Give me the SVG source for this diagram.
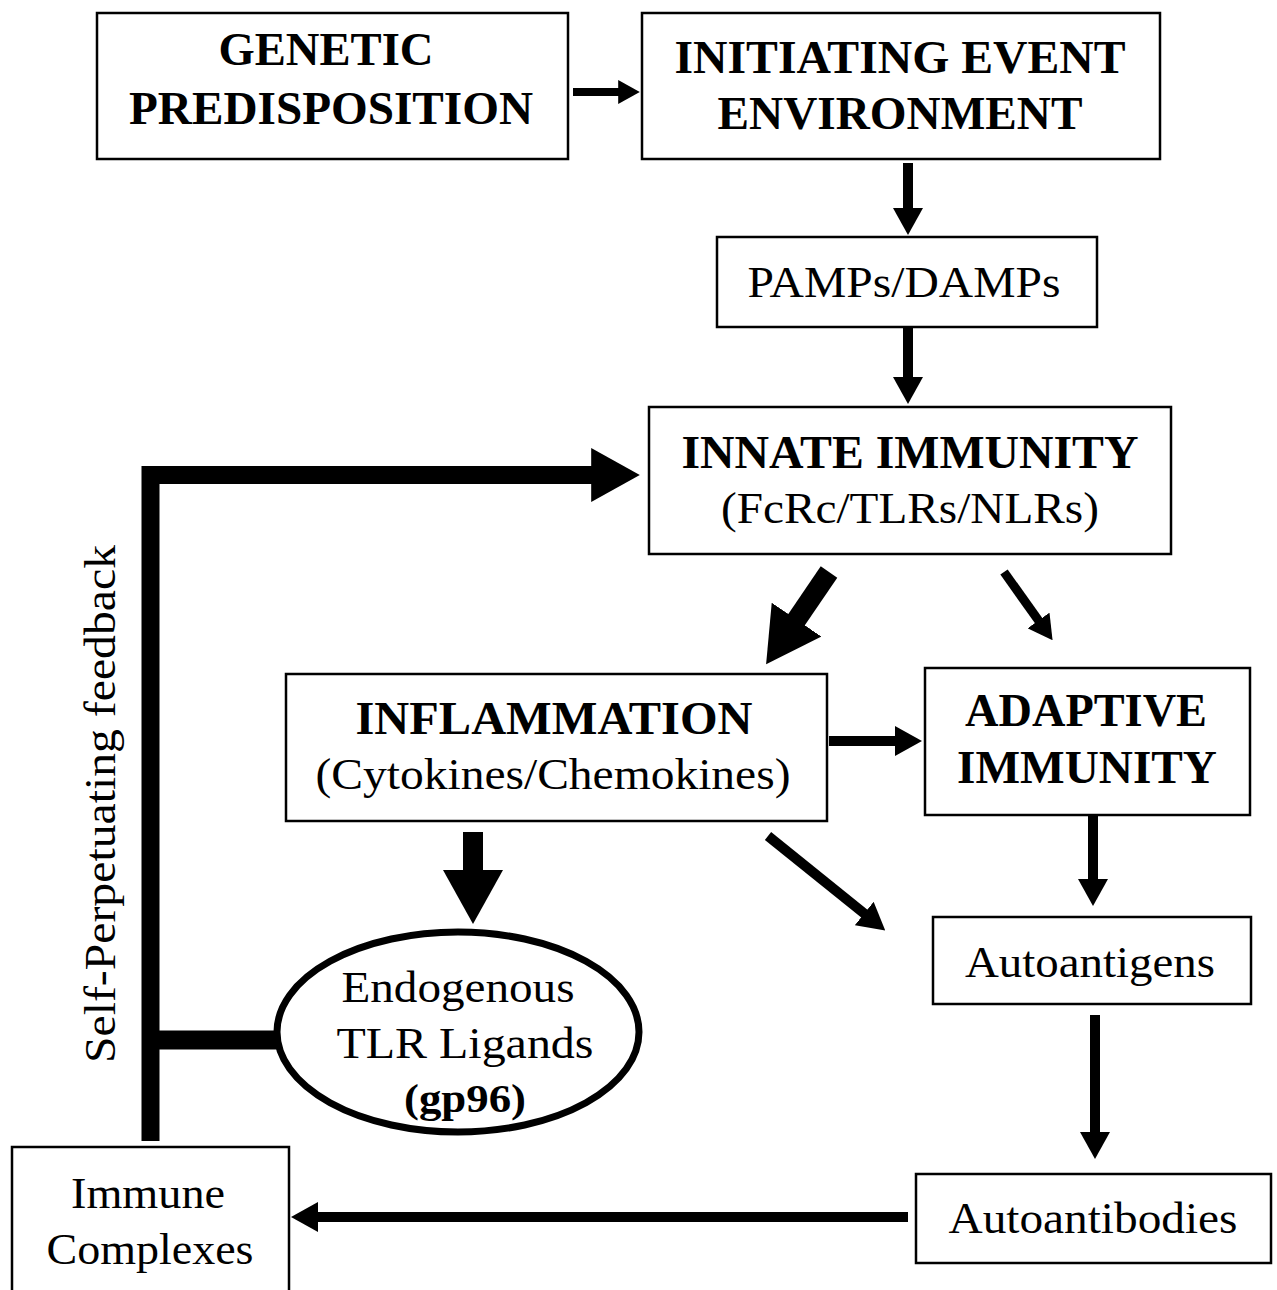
<svg xmlns="http://www.w3.org/2000/svg" width="1277" height="1290" viewBox="0 0 1277 1290">
<style>
.box{fill:#fff;stroke:#000;stroke-width:2.5}
.ell{fill:#fff;stroke:#000;stroke-width:7}
.t{font-family:"Liberation Serif","Times New Roman",serif;font-size:44px;fill:#000;text-anchor:middle}
.b{font-weight:bold;font-size:46px}
.c{stroke:#000;fill:none;stroke-linecap:butt;stroke-linejoin:miter}
</style>
<defs>
<marker id="ah" viewBox="0 0 27 30" markerWidth="2.7" markerHeight="3" refX="1" refY="15" orient="auto" markerUnits="strokeWidth">
<path d="M0,0 L27,15 L0,30 z" fill="#000"/>
</marker>
</defs>
<rect width="1277" height="1290" fill="#fff"/>

<g id="connectors">
<line class="c" x1="573" y1="92" x2="619" y2="92" stroke-width="8" marker-end="url(#ah)"/>
<line class="c" x1="908" y1="163" x2="908" y2="209" stroke-width="10" marker-end="url(#ah)"/>
<line class="c" x1="908" y1="328" x2="908" y2="378" stroke-width="10" marker-end="url(#ah)"/>
<polyline class="c" points="150.5,1141 150.5,475 593,475" stroke-width="18" marker-end="url(#ah)"/>
<line class="c" x1="150" y1="1040" x2="279" y2="1040" stroke-width="19"/>
<line class="c" x1="829" y1="572" x2="795.4" y2="621.3" stroke-width="20" marker-end="url(#ah)"/>
<line class="c" x1="1004" y1="572" x2="1039" y2="621.2" stroke-width="9" marker-end="url(#ah)"/>
<line class="c" x1="829" y1="741" x2="896" y2="741" stroke-width="10" marker-end="url(#ah)"/>
<line class="c" x1="1093" y1="815" x2="1093" y2="880" stroke-width="10" marker-end="url(#ah)"/>
<line class="c" x1="768" y1="836" x2="865" y2="914.1" stroke-width="10" marker-end="url(#ah)"/>
<line class="c" x1="473" y1="832" x2="473" y2="872" stroke-width="20" marker-end="url(#ah)"/>
<line class="c" x1="1095" y1="1015" x2="1095" y2="1133" stroke-width="10" marker-end="url(#ah)"/>
<line class="c" x1="908" y1="1217" x2="317" y2="1217" stroke-width="10" marker-end="url(#ah)"/>
</g>

<g id="genetic">
<rect class="box" x="97" y="13" width="471" height="146"/>
<text class="t b" x="326" y="65" textLength="215" lengthAdjust="spacingAndGlyphs">GENETIC</text>
<text class="t b" x="331" y="124" textLength="404" lengthAdjust="spacingAndGlyphs">PREDISPOSITION</text>
</g>

<g id="initiating">
<rect class="box" x="642" y="13" width="518" height="146"/>
<text class="t b" x="900" y="73" textLength="451" lengthAdjust="spacingAndGlyphs">INITIATING EVENT</text>
<text class="t b" x="900" y="129" textLength="365" lengthAdjust="spacingAndGlyphs">ENVIRONMENT</text>
</g>

<g id="pamps">
<rect class="box" x="717" y="237" width="380" height="90"/>
<text class="t" x="904" y="297" textLength="313" lengthAdjust="spacingAndGlyphs">PAMPs/DAMPs</text>
</g>

<g id="innate">
<rect class="box" x="649" y="407" width="522" height="147"/>
<text class="t b" x="910" y="468" textLength="457" lengthAdjust="spacingAndGlyphs">INNATE IMMUNITY</text>
<text class="t" x="910" y="523" textLength="378" lengthAdjust="spacingAndGlyphs">(FcRc/TLRs/NLRs)</text>
</g>

<g id="inflammation">
<rect class="box" x="286" y="674" width="541" height="147"/>
<text class="t b" x="554" y="734" textLength="397" lengthAdjust="spacingAndGlyphs">INFLAMMATION</text>
<text class="t" x="553" y="789" textLength="475" lengthAdjust="spacingAndGlyphs">(Cytokines/Chemokines)</text>
</g>

<g id="adaptive">
<rect class="box" x="925" y="668" width="325" height="147"/>
<text class="t b" x="1086" y="726" textLength="242" lengthAdjust="spacingAndGlyphs">ADAPTIVE</text>
<text class="t b" x="1087" y="783" textLength="260" lengthAdjust="spacingAndGlyphs">IMMUNITY</text>
</g>

<g id="autoantigens">
<rect class="box" x="933" y="917" width="318" height="87"/>
<text class="t" x="1090" y="977" textLength="250" lengthAdjust="spacingAndGlyphs">Autoantigens</text>
</g>

<g id="autoantibodies">
<rect class="box" x="916" y="1174" width="355" height="89"/>
<text class="t" x="1093" y="1233" textLength="289" lengthAdjust="spacingAndGlyphs">Autoantibodies</text>
</g>

<g id="ligands">
<ellipse class="ell" cx="458" cy="1032" rx="181" ry="100"/>
<text class="t" x="458" y="1002" textLength="233" lengthAdjust="spacingAndGlyphs">Endogenous</text>
<text class="t" x="465" y="1058" textLength="257" lengthAdjust="spacingAndGlyphs">TLR Ligands</text>
<text class="t b" x="465" y="1112" style="font-size:40px" textLength="122" lengthAdjust="spacingAndGlyphs">(gp96)</text>
</g>

<g id="immune">
<rect class="box" x="12" y="1147" width="277" height="150"/>
<text class="t" x="148" y="1208" textLength="154" lengthAdjust="spacingAndGlyphs">Immune</text>
<text class="t" x="150" y="1264" textLength="207" lengthAdjust="spacingAndGlyphs">Complexes</text>
</g>

<g id="feedback-label">
<text class="t" transform="translate(115,804) rotate(-90)" x="0" y="0" textLength="518" lengthAdjust="spacingAndGlyphs">Self-Perpetuating feedback</text>
</g>
</svg>
